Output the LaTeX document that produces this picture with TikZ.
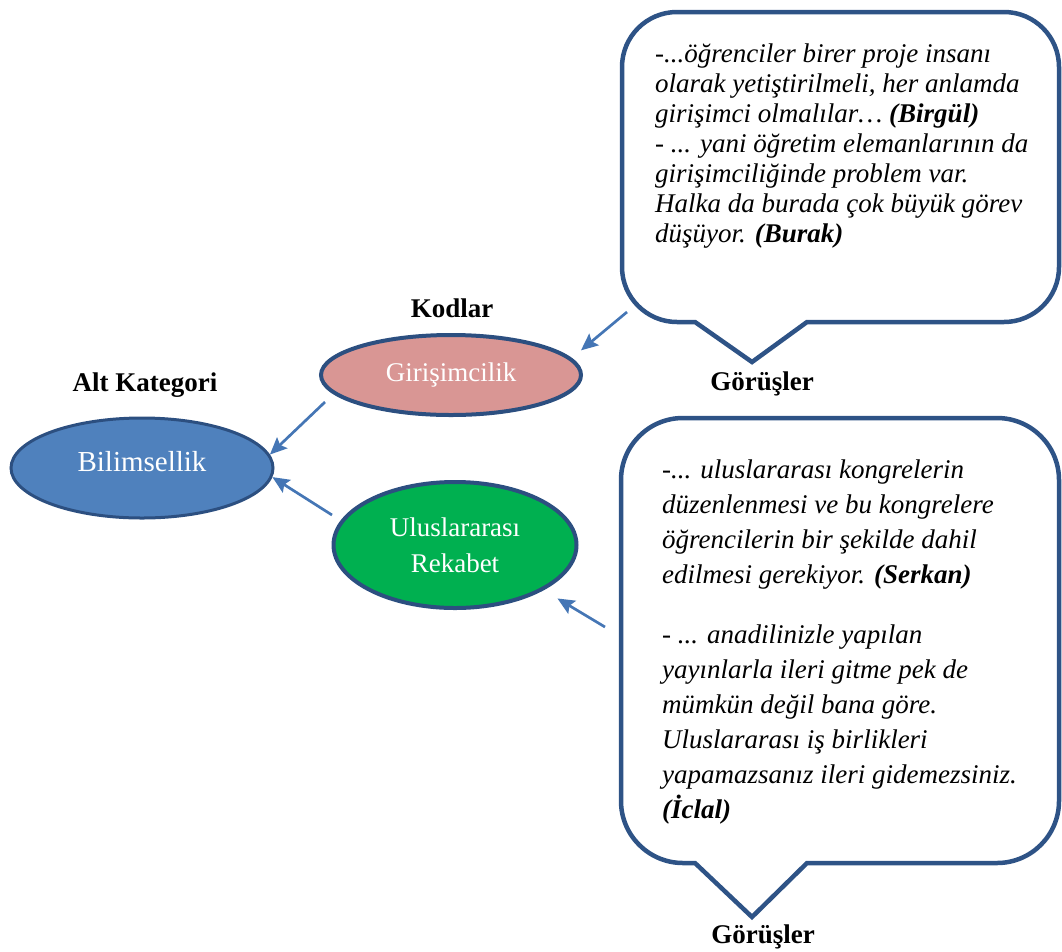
\documentclass[tikz,border=0pt]{standalone}
\usepackage{fontspec}
\setmainfont{Liberation Serif}
\usetikzlibrary{shapes.geometric,arrows.meta}
\definecolor{kodblue}{HTML}{4F81BD}
\definecolor{okblue}{HTML}{4576B5}
\definecolor{kodline}{HTML}{2C4F80}
\definecolor{balonline}{HTML}{2E5386}
\definecolor{kodpink}{HTML}{D99694}
\definecolor{kodgreen}{HTML}{00B050}

\begin{document}
\begin{tikzpicture}[x=1pt,y=-1pt]
\tikzset{kod/.style={ellipse,draw=kodline,line width=4pt,inner sep=0pt,text=white,align=center,font=\fontsize{27}{36}\selectfont}}
\tikzset{baslik/.style={anchor=base,inner sep=0pt,font=\fontsize{27}{30}\selectfont\bfseries}}
\tikzset{ok/.style={draw=okblue,line width=2.7pt,-{Stealth[length=17pt,width=15pt,inset=3pt]}}}
\tikzset{balon/.style={draw=balonline,line width=4.5pt,line join=miter}}
\tikzset{soz/.style={anchor=base west,inner sep=0pt}}
\useasboundingbox (0,0) rectangle (1062,951);
\node[kod,fill=kodblue,line width=3pt,minimum width=262pt,minimum height=100pt,text depth=14pt,font=\fontsize{29}{36}\selectfont] (bilim) at (142,468) {Bilimsellik};
\node[kod,fill=kodpink,minimum width=260pt,minimum height=80pt] (giri) at (451,375) {Girişimcilik};
\node[kod,fill=kodgreen,minimum width=243pt,minimum height=126pt] (ulus) at (455,545) {Uluslararası\\Rekabet};
\node[baslik] (altkat) at (145,391) {Alt Kategori};
\node[baslik] (kodlar) at (452,317) {Kodlar};
\node[baslik] (gorus1) at (762,390) {Görüşler};
\node[baslik] (gorus2) at (763,943) {Görüşler};
\draw[balon] (695,322) -- (752,362) -- (807,322) -- (1004,322) arc(90:0:55)
  -- (1059,67) arc(0:-90:55) -- (677,12) arc(-90:-180:55)
  -- (622,267) arc(180:90:55) -- cycle;
\draw[balon] (695,863) -- (752,917) -- (807,863) -- (997,863) arc(90:0:62)
  -- (1059,480) arc(0:-90:62) -- (683,418) arc(-90:-180:62)
  -- (621,801) arc(180:90:62) -- cycle;
\node[soz] (soz1) at (655,62) {\parbox[t]{420pt}{\raggedright\fontsize{27}{30}\selectfont\itshape
-...öğrenciler birer proje insanı\\
olarak yetiştirilmeli, her anlamda\\
girişimci olmalılar… \textbf{(Birgül)}\\
- ... yani öğretim elemanlarının da\\
girişimciliğinde problem var.\\
Halka da burada çok büyük görev\\
düşüyor. \textbf{(Burak)}}};
\node[soz] (soz2) at (662,478) {\parbox[t]{420pt}{\raggedright\fontsize{27}{35}\selectfont\itshape
-... uluslararası kongrelerin\\
düzenlenmesi ve bu kongrelere\\
öğrencilerin bir şekilde dahil\\
edilmesi gerekiyor. \textbf{(Serkan)}\\[25pt]
- ... anadilinizle yapılan\\
yayınlarla ileri gitme pek de\\
mümkün değil bana göre.\\
Uluslararası iş birlikleri\\
yapamazsanız ileri gidemezsiniz.\\
\textbf{(İclal)}}};
\coordinate (giriuc) at (325,402);
\coordinate (ulusuc) at (332,515);
\coordinate (balon1uc) at (627,312);
\coordinate (balon2uc) at (605,627);
\draw[ok] (giriuc) -- (bilim.6);
\draw[ok] (ulusuc) -- (bilim.-4);
\draw[ok,shorten >=12pt] (balon1uc) -- (giri.8);
\draw[ok,shorten >=16pt] (balon2uc) -- (ulus.-27);
\end{tikzpicture}
\end{document}
